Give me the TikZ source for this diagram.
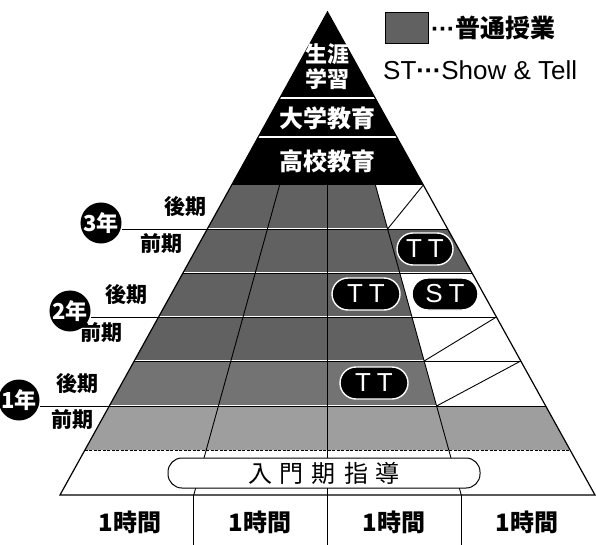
\documentclass[tikz,border=0pt]{standalone}
\usepackage{fontspec}
\setmainfont{Liberation Sans}
\newfontfamily\jp{Noto Sans CJK JP}
\usetikzlibrary{calc,shapes.misc}
\newcommand{\middots}{{\rmfamily\bfseries ·\kern-0.5pt·\kern-0.5pt·}}
\begin{document}
\begin{tikzpicture}[x=1pt,y=-1pt,
  edge/.style={line width=1.2pt},
  gridline/.style={line width=0.9pt},
  pill/.style={rounded rectangle, fill=black, draw=white, line width=1.4pt, text=white,
    font=\fontsize{26}{26}\selectfont, inner sep=0pt, minimum height=32pt},
  lbl/.style={font=\jp\bfseries\fontsize{21}{21}\selectfont, inner sep=0pt},
  yr/.style={circle, fill=black, text=white, minimum size=37pt, inner sep=0pt,
    font=\jp\bfseries\fontsize{22}{22}\selectfont},
  hour/.style={font=\jp\bfseries\fontsize{24}{24}\selectfont, inner sep=0pt},
  blk/.style={text=white, font=\jp\bfseries\fontsize{24}{24}\selectfont, inner sep=0pt, align=center},
  dark/.style={fill=black!62},
  midshade/.style={fill=black!55},
  lightshade/.style={fill=black!38}]
\useasboundingbox (0,0) rectangle (596,545);
\coordinate (A) at (327.5,12);
\coordinate (BL) at (60,495);
\coordinate (BR) at (595,495);
\coordinate (Q1) at (193.75,495);
\coordinate (M) at (327.5,495);
\coordinate (Q3) at (461.25,495);
\coordinate (Q1b) at (193.75,545);
\coordinate (Mb) at (327.5,545);
\coordinate (Q3b) at (461.25,545);
\foreach \n/\y in {0/185,1/229,2/273,3/317,4/361,5/406,6/450}{
  \coordinate (L\n) at ($(A)!{(\y-12)/483}!(BL)$);
  \coordinate (R\n) at ($(A)!{(\y-12)/483}!(BR)$);
  \coordinate (P\n) at ($(A)!{(\y-12)/483}!(Q1)$);
  \coordinate (S\n) at ($(A)!{(\y-12)/483}!(Q3)$);
  \coordinate (M\n) at (327.5,\y);
}
\coordinate (WaL) at ($(A)!{86/483}!(BL)$);
\coordinate (WaR) at ($(A)!{86/483}!(BR)$);
\coordinate (WbL) at ($(A)!{125/483}!(BL)$);
\coordinate (WbR) at ($(A)!{125/483}!(BR)$);
% shading
\fill[dark] (L0)--(S0)--(S1)--(R1)--(R2)--(S2)--(S4)--(L4)--cycle;
\fill[midshade] (L4)--(S4)--(S5)--(L5)--cycle;
\fill[lightshade] (L5)--(R5)--(R6)--(L6)--cycle;
% black top
\fill[black] (A)--(R0)--(L0)--cycle;
\draw[white, line width=1.6pt] (WaL)--(WaR);
\draw[white, line width=1.4pt] (WbL)--(WbR);
% grid
\foreach \n in {1,...,5}{
  \draw[white, line width=2.4pt] (L\n)--(R\n);
  \draw[gridline] (L\n)--(R\n);
}
\draw[gridline, dash pattern=on 3pt off 1.5pt] (L6)--(R6);
\draw[gridline] (P0)--(Q1);
\draw[gridline] (M0)--(M);
\draw[gridline] (S0)--(Q3);
\draw[gridline] (S1)--(R0);
\draw[gridline] (S4)--(R3);
\draw[gridline] (S5)--(R4);
\draw[edge] (A)--(BR)--(BL)--cycle;
\draw[gridline] (Q1)--(Q1b);
\draw[gridline] (M)--(Mb);
\draw[gridline] (Q3)--(Q3b);
% block texts
\node[blk, font=\jp\bfseries\fontsize{22}{25}\selectfont] (t1) at (327.5,67) {生涯\\学習};
\node[blk] (t2) at (327.5,118) {大学教育};
\node[blk] (t3) at (327.5,161) {高校教育};
% pills
\node[pill, minimum width=56pt] (tt1) at (425,249) {T\kern6pt T};
\node[pill, minimum width=68pt] (tt2) at (366,294) {T\kern6pt T};
\node[pill, minimum width=66pt] (st1) at (445,294) {S\kern6pt T};
\node[pill, minimum width=68pt] (tt3) at (374,383) {T\kern6pt T};
% intro band
\node[draw, fill=white, rounded corners=14pt, minimum width=312pt, minimum height=30pt,
  line width=1pt, inner sep=0pt, font=\jp\fontsize{24}{24}\selectfont] (intro) at (324,473)
  {入\kern8pt 門\kern8pt 期\kern8pt 指\kern8pt 導};
% hours
\node[hour] (h1) at (130,522) {1時間};
\node[hour] (h2) at (260,522) {1時間};
\node[hour] (h3) at (394,522) {1時間};
\node[hour] (h4) at (527,522) {1時間};
% year labels
\node[yr] (y3) at (101,223) {3年};
\node[yr] (y2) at (70,311) {2年};
\node[yr] (y1) at (19,400) {1年};
\draw[gridline] (y3.east |- L1) -- (L1);
\draw[gridline] (y2.east |- L3) -- (L3);
\draw[gridline] (y1.east |- L5) -- (L5);
\node[lbl] (k3) at (185,207) {後期};
\node[lbl] (z3) at (161,244) {前期};
\node[lbl] (k2) at (126,295) {後期};
\node[lbl] (z2) at (101,333) {前期};
\node[lbl] (k1) at (77,384) {後期};
\node[lbl] (z1) at (72,420) {前期};
% legend
\node[dark, draw, line width=0.8pt, minimum width=43pt, minimum height=31pt, inner sep=0pt] (leg) at (407,28) {};
\node[anchor=west, font=\jp\bfseries\fontsize{25}{25}\selectfont, inner sep=0pt] (legt) at (431,28) {\middots 普通授業};
\node[anchor=west, font=\fontsize{26}{26}\selectfont, inner sep=0pt] (stt) at (383,70) {ST\middots Show \& Tell};
\end{tikzpicture}
\end{document}
